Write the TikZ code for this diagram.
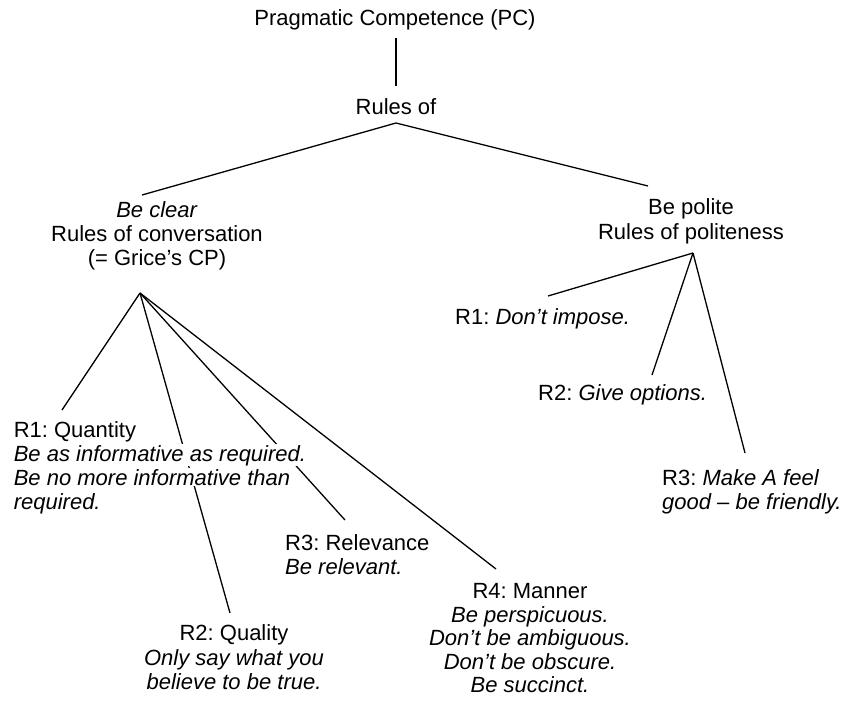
\documentclass[tikz,border=0pt]{standalone}
\usepackage{fontspec}
\setmainfont{Liberation Sans}
\frenchspacing
\begin{document}
\begin{tikzpicture}[x=1pt,y=-1pt,
  conn/.style={line width=1.3pt,black},
  txt/.style={inner sep=0pt,font=\fontsize{22}{23.8}\selectfont},
  ctxt/.style={txt,align=center,anchor=north},
  ltxt/.style={txt,align=left,anchor=north west},
  linetxt/.style={inner sep=0.6pt,fill=white,anchor=base west,font=\fontsize{22}{23.8}\selectfont}]
\useasboundingbox (0,0) rectangle (843,704);
% connector end points
\coordinate (pcS) at (396,38);
\coordinate (rulN) at (396,86);
\coordinate (rulS) at (396,123);
\coordinate (clrN) at (142,195);
\coordinate (polN) at (648,186);
\coordinate (clrS) at (140,293);
\coordinate (q1e) at (62,410);
\coordinate (q2e) at (230,613);
\coordinate (q3e) at (345,520);
\coordinate (q4e) at (496,569);
\coordinate (polS) at (693,253);
\coordinate (p1e) at (548,296);
\coordinate (p2e) at (652,375);
\coordinate (p3e) at (745,453);
% connectors
\draw[conn] (pcS) -- (rulN);
\draw[conn] (rulS) -- (clrN);
\draw[conn] (rulS) -- (polN);
\draw[conn] (clrS) -- (q1e);
\draw[conn] (clrS) -- (q2e);
\draw[conn] (clrS) -- (q3e);
\draw[conn] (clrS) -- (q4e);
\draw[conn] (polS) -- (p1e);
\draw[conn] (polS) -- (p2e);
\draw[conn] (polS) -- (p3e);
% texts
\node[ctxt] (pc) at (395,9.5) {Pragmatic Competence (PC)};
\node[ctxt] (rul) at (396,98.5) {Rules of};
\node[ctxt] (clr) at (157,201.5) {\textit{Be clear}\\Rules of conversation\\(= Grice’s CP)};
\node[ctxt,font=\fontsize{22}{25}\selectfont] (pol) at (691,198.5) {Be polite\\Rules of politeness};
\node[linetxt] (q1a) at (13,437.5) {R1: Quantity};
\node[linetxt] (q1b) at (13,461) {\textit{Be as informative as required.}};
\node[linetxt] (q1c) at (13,485) {\textit{Be no more informative than}};
\node[linetxt] (q1d) at (13,509) {\textit{required.}};
\node[ctxt,font=\fontsize{22}{24.4}\selectfont] (q2) at (234,624.5) {R2: Quality\\\textit{Only say what you}\\\textit{believe to be true.}};
\node[ltxt] (q3) at (285,534.5) {R3: Relevance\\\textit{Be relevant.}};
\node[ctxt,font=\fontsize{22}{23.5}\selectfont] (q4) at (530,583.5) {R4: Manner\\\textit{Be perspicuous.}\\\textit{Don’t be ambiguous.}\\\textit{Don’t be obscure.}\\\textit{Be succinct.}};
\node[ltxt] (p1) at (455,308.5) {R1: \textit{Don’t impose.}};
\node[ltxt] (p2) at (538,384.5) {R2: \textit{Give options.}};
\node[ltxt] (p3) at (662,469.5) {R3: \textit{Make A feel}\\\textit{good – be friendly.}};
\end{tikzpicture}
\end{document}
